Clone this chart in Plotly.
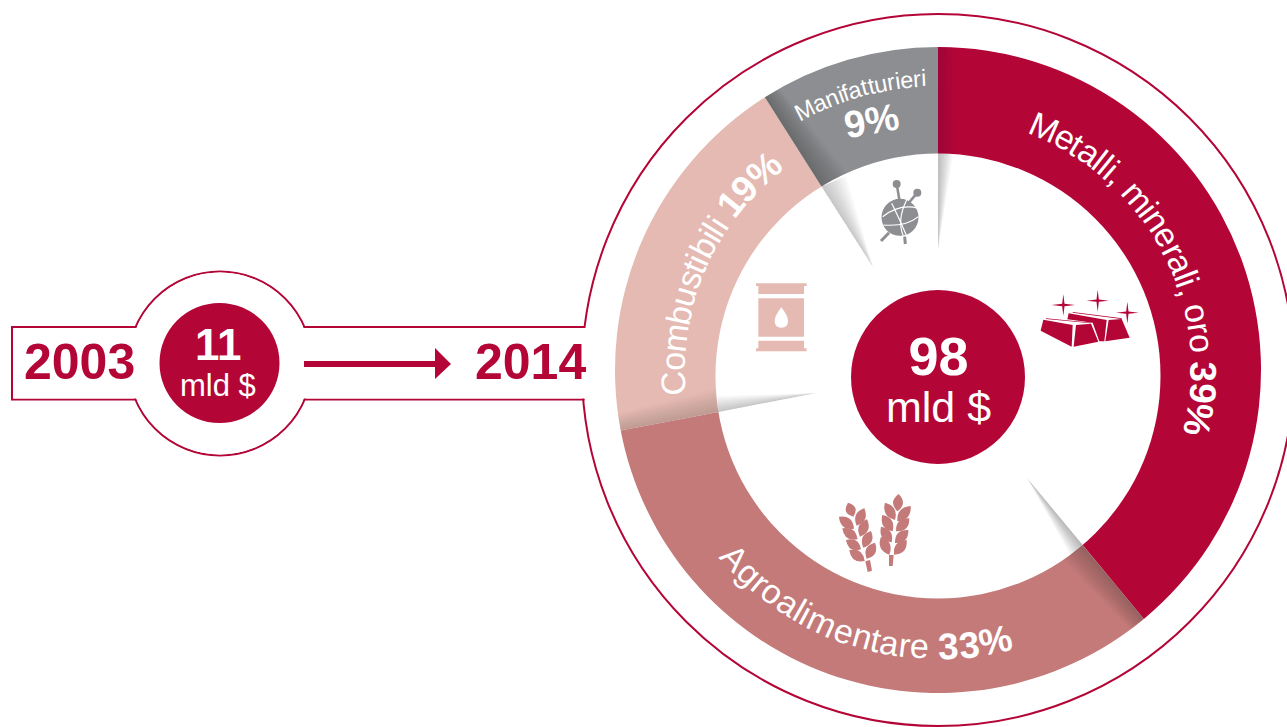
import math
import plotly.graph_objects as go

W, H = 1287, 727
categories = ["Metalli, minerali, oro", "Agroalimentare", "Combustibili", "Manifatturieri"]
shares = [39, 33, 19, 9]
total_2014 = ["98", "mld $"]
total_2003 = ["11", "mld $"]
years = ["2003", "2014"]

RED, ROSE, PINK, GRAY = "#B40537", "#C37A79", "#E5BAB2", "#8C8E91"
CX, CY, RO = 938, 370, 323
HX, HY, RI = 938, 376, 222.5  # the white hole sits a little below the ring's centre


def px(x):
    return x / W


def py(y):
    return 1 - y / H


def path(*tokens):
    out = []
    for t in tokens:
        out.append(t if isinstance(t, str) else f"{px(t[0]):.5f},{py(t[1]):.5f}")
    return " ".join(out)


def poly(pts):
    toks = []
    for i, q in enumerate(pts):
        toks += ["M" if i == 0 else "L", q]
    return path(*toks, "Z")


shapes = []


def add(d, fill=None, line=None, lw=0):
    shapes.append(dict(type="path", xref="paper", yref="paper", layer="above", path=d,
                       fillcolor=fill or "rgba(0,0,0,0)",
                       line=dict(color=line or "rgba(0,0,0,0)", width=lw)))


def circle(cx, cy, r, fill=None, line=None, lw=0):
    shapes.append(dict(type="circle", xref="paper", yref="paper", layer="above",
                       x0=px(cx - r), x1=px(cx + r), y0=py(cy + r), y1=py(cy - r),
                       fillcolor=fill or "rgba(0,0,0,0)",
                       line=dict(color=line or "rgba(0,0,0,0)", width=lw)))


def polar(r, deg):
    a = math.radians(deg)
    return (CX + r * math.sin(a), CY - r * math.cos(a))


def rim(deg):
    """Point where the slice boundary at deg meets the hole's edge."""
    a = math.radians(deg)
    ux, uy = math.sin(a), -math.cos(a)
    ox, oy = CX - HX, CY - HY
    b = ox * ux + oy * uy
    c = ox * ox + oy * oy - RI * RI
    return polar(-b + math.sqrt(b * b - c), deg)


# ---------- frame
circle(CX, CY, 356, line=RED, lw=2)
circle(220, 363.5, 92, line=RED, lw=2)
add(path("M", (584.6, 327), "L", (12, 327), "L", (12, 399.5), "L", (584.6, 399.5)), line=RED, lw=2)
add(poly([(13, 328), (590, 328), (590, 398.5), (13, 398.5)]), fill="white")
circle(220, 363.5, 90.9, fill="white")
circle(219.5, 363, 60, fill=RED)

add(poly([(304, 361), (435, 361), (435, 348), (451, 364), (435, 379), (435, 367), (304, 367)]), fill=RED)

cum = [0]
for v in shares:
    cum.append(cum[-1] + v)
bound = [c / 100 * 360 for c in cum]


def ring_shadow(a, da0, da1, alpha, color="40,40,45", steps=10):
    r0 = RI - 12
    for k in range(1, steps + 1):
        t = k / steps
        pts = [polar(RO, a), polar(RO, a + da1 * t), polar(r0, a + da0 * t), polar(r0, a)]
        add(poly(pts), fill=f"rgba({color},{alpha})")


def spike(p0, p1, apex, alpha, steps=10):
    for k in range(1, steps + 1):
        t = k / steps
        b = (p0[0] + (p1[0] - p0[0]) * t, p0[1] + (p1[1] - p0[1]) * t)
        add(poly([p0, b, apex]), fill=f"rgba(60,60,65,{alpha})")


ring_shadow(bound[0], 5, 3, 0.016)
ring_shadow(bound[1], 7, 3, 0.028)
ring_shadow(bound[2], 6.5, 3, 0.018)
ring_shadow(bound[3], 8, 3, 0.03)

# white hole above the ring, centre disc above the hole
circle(HX, HY, RI, fill="white")
circle(938, 377, 87, fill=RED)

spike(rim(bound[0]), (953, 154), (938, 250), 0.035)
spike(rim(bound[3]), (846, 176), (873, 267), 0.03)
spike(rim(bound[2]), (717, 396), (816, 393), 0.03)
spike(rim(bound[1]), (1071, 556), (1027, 478), 0.045)


def z(x0, y0):
    return lambda x, y: (x0 + x / 3, y0 + y / 3)


# gold bars
g = z(1020, 270)
add(poly([g(70, 149), g(158, 165), g(155, 230), g(62, 182)]), fill=RED)
add(poly([g(168, 165), g(213, 161), g(235, 215), g(161, 230)]), fill=RED)
add(poly([g(78, 145), g(215, 158), g(213, 160), g(78, 147)]), fill=RED)
add(poly([g(146, 130), g(260, 150), g(253, 214), g(238, 214), g(218, 158), g(142, 148)]), fill=RED)
add(poly([g(266, 150), g(305, 147), g(329, 203), g(256, 214)]), fill=RED)
add(poly([g(158, 126), g(306, 145), g(304, 147), g(158, 128)]), fill=RED)
for sx, sy, rx, ry in [(130, 105, 35, 32), (233, 92, 33, 33), (322, 128, 34, 33)]:
    w = 3.5
    add(poly([g(sx - rx, sy), g(sx - w, sy - w), g(sx, sy - ry), g(sx + w, sy - w),
              g(sx + rx, sy), g(sx + w, sy + w), g(sx, sy + ry), g(sx - w, sy + w)]), fill=RED)

# barrel
b = z(720, 270)
add(poly([b(108, 40), b(260, 40), b(260, 48), b(252, 48), b(252, 72), b(115, 72), b(115, 48), b(108, 48)]), fill=PINK)
add(poly([b(115, 85), b(252, 85), b(252, 200), b(115, 200)]), fill=PINK)
add(poly([b(115, 212), b(252, 212), b(252, 235), b(260, 235), b(260, 244), b(108, 244), b(108, 235), b(115, 235)]), fill=PINK)
add(path("M", b(184, 112), "Q", b(164, 138), b(164, 152), "Q", b(164, 173), b(184, 173),
         "Q", b(204, 173), b(204, 152), "Q", b(204, 138), b(184, 112), "Z"), fill="white")

# wheat
h = z(820, 480)


def leaf(a, c, width=14):
    a, c = h(*a), h(*c)
    dx, dy = c[0] - a[0], c[1] - a[1]
    L = math.hypot(dx, dy)
    nx, ny = -dy / L * width / 3, dx / L * width / 3
    mx, my = (a[0] + c[0]) / 2, (a[1] + c[1]) / 2
    add(path("M", a, "Q", (mx + nx, my + ny), c, "Q", (mx - nx, my - ny), a, "Z"), fill=ROSE)


for a, c in [((84, 68), (100, 110)), ((57, 110), (102, 146)), ((67, 145), (113, 178)),
             ((78, 180), (123, 208)), ((88, 210), (134, 243)), ((133, 85), (110, 137)),
             ((141, 118), (120, 170)), ((153, 153), (130, 203)), ((165, 188), (140, 236)),
             ((236, 42), (232, 94)), ((195, 68), (225, 120)), ((187, 105), (218, 154)),
             ((183, 140), (215, 187)), ((183, 170), (208, 224)), ((272, 78), (232, 124)),
             ((268, 115), (228, 154)), ((265, 150), (225, 189)), ((260, 180), (222, 224))]:
    leaf(a, c, 30)
add(poly([h(136, 244), h(150, 240), h(156, 272), h(143, 276)]), fill=ROSE)
add(poly([h(207, 225), h(221, 225), h(218, 258), h(207, 258)]), fill=ROSE)

# yarn
y = z(740, 40)
add(path("M", y(470, 432), "L", y(480, 490)), line=GRAY, lw=2.5)
add(path("M", y(532, 458), "L", y(505, 490)), line=GRAY, lw=2.5)
add(path("M", y(423, 603), "L", y(447, 578)), line=GRAY, lw=3)
add(path("M", y(496, 612), "L", y(494, 590)), line=GRAY, lw=3)
circle(*y(470, 432), 4, fill=GRAY)
circle(*y(532, 458), 4, fill=GRAY)
circle(*y(480, 532), 18.5, fill=GRAY)
for a, c, e in [((428, 530), (480, 490), (535, 505)), ((430, 555), (500, 560), (535, 530)),
                ((455, 490), (480, 540), (500, 588)), ((500, 480), (470, 540), (490, 588))]:
    add(path("M", y(*a), "Q", y(*c), y(*e)), line="white", lw=1.2)

# ---------- text
SANS = "Liberation Sans"
annotations = []


def text(s, x, y_, size, color="white", bold=False, angle=0):
    annotations.append(dict(text=f"<b>{s}</b>" if bold else s, x=px(x), y=py(y_), xref="paper", yref="paper",
                            xanchor="center", yanchor="middle", showarrow=False, textangle=angle, borderpad=0,
                            font=dict(family=SANS, size=size, color=color)))


ADV = {" ": .278, ",": .278, "%": .889, "A": .667, "C": .722, "M": .833, "a": .556, "b": .556, "e": .556,
       "f": .278, "g": .556, "i": .222, "l": .222, "m": .833, "n": .556, "o": .556, "r": .333, "s": .5,
       "t": .278, "u": .556}


def advance(c):
    return .556 if c.isdigit() else ADV[c]


def arc_text(parts, r, start, clockwise=True):
    s = 0.0
    sign = 1 if clockwise else -1
    for chunk, size, bold in parts:
        for c in chunk:
            w = advance(c) * size
            theta = start + sign * math.degrees((s + w / 2) / r)
            if c != " ":
                x, y_ = polar(r, theta)
                ang = theta if clockwise else theta - 180
                ang = (ang + 180) % 360 - 180
                text(c, x, y_, size, bold=bold, angle=ang)
            s += w


arc_text([(categories[0] + " ", 34, False), (f"{shares[0]}%", 37, True)], 265, 20.5)
arc_text([(categories[1] + " ", 34, False), (f"{shares[1]}%", 37, True)], 277, 229.5, clockwise=False)
arc_text([(categories[2] + " ", 34, False), (f"{shares[2]}%", 37, True)], 265, 264.5)
arc_text([(categories[3], 23.5, False)], 292, 331)
text(f"{shares[3]}%", 871, 121, 38, bold=True, angle=-10)

annotations.append(dict(
    text=f'<span style="font-size:54px"><b>{total_2014[0]}</b></span><br>'
         f'<span style="font-size:43px">{total_2014[1]}</span>',
    x=px(938), y=py(378), xref="paper", yref="paper", xanchor="center", yanchor="middle",
    showarrow=False, borderpad=0, font=dict(family=SANS, size=36, color="white")))
text(total_2003[0], 218, 344, 44, bold=True)
text(total_2003[1], 218, 385, 31)
text(years[0], 79, 362, 50, color=RED, bold=True)
text(years[1], 530, 362, 50, color=RED, bold=True)

fig = go.Figure(go.Pie(
    labels=categories, values=shares, sort=False, direction="clockwise", rotation=0,
    hole=0.5, textinfo="none", showlegend=False,
    marker=dict(colors=[RED, ROSE, PINK, GRAY], line=dict(width=0)),
    domain=dict(x=[px(CX - RO), px(CX + RO)], y=[py(CY + RO), py(CY - RO)]),
))
fig.update_layout(width=W, height=H, margin=dict(l=0, r=0, t=0, b=0), paper_bgcolor="white",
                  plot_bgcolor="white", shapes=shapes, annotations=annotations, showlegend=False)
fig.write_html("out.html", config=dict(displayModeBar=False),
               post_script="document.body.style.margin='0';document.documentElement.style.overflow='hidden';")
